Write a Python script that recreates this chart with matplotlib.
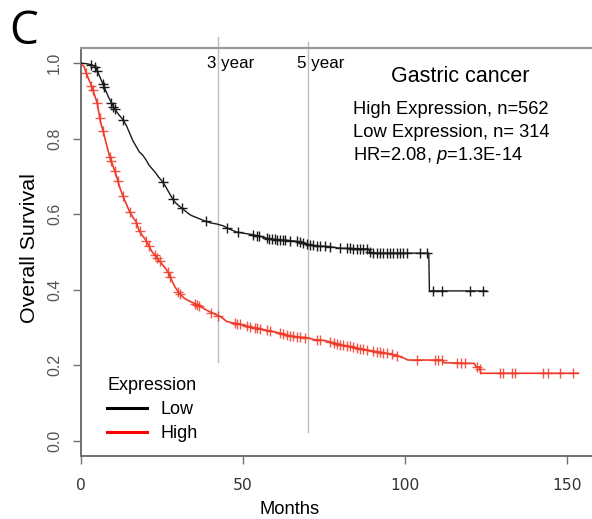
import numpy as np
import matplotlib
matplotlib.use('Agg')
import matplotlib.pyplot as plt
from matplotlib.lines import Line2D

# ---------------- data ----------------
low_t = [0, 2, 3.5, 4.5, 5.5, 6.5, 7.5, 8.5, 9.5, 10.5, 12, 13, 14, 15, 16, 17, 18, 19, 20,
         21, 22, 23, 24, 25, 26, 27, 28, 29, 30, 31, 32, 33, 34, 36, 38, 40, 42, 44, 46, 48,
         50, 53, 56, 58, 62, 66, 69, 70, 73, 77, 80, 88.8, 89.3, 90, 107.4, 107.6, 125.3]
low_s = [1.0, 0.998, 0.995, 0.99, 0.97, 0.95, 0.93, 0.91, 0.893, 0.877, 0.86, 0.85, 0.835,
         0.815, 0.795, 0.78, 0.765, 0.757, 0.745, 0.73, 0.72, 0.71, 0.698, 0.688, 0.675, 0.66,
         0.645, 0.632, 0.624, 0.617, 0.61, 0.603, 0.597, 0.59, 0.583, 0.577, 0.574, 0.569,
         0.56, 0.553, 0.55, 0.546, 0.54, 0.534, 0.532, 0.529, 0.524, 0.519, 0.516, 0.514,
         0.51, 0.508, 0.499, 0.497, 0.497, 0.397, 0.397]
low_cens = [3.0, 4.3, 5.0, 6.8, 7.1, 9.4, 10.0, 10.4, 13.1, 25.3, 28.4, 31.1, 38.5, 45.0,
            48.6, 53.2, 54.3, 55.1, 57.3, 58.2, 59.0, 59.8, 60.6, 61.5, 62.3, 63.1, 64.5,
            66.6, 67.6, 68.7, 69.7, 70.7, 71.7, 72.8, 73.8, 75.4, 76.9, 80.0, 82.1, 83.1,
            84.1, 85.1, 86.2, 87.2, 88.2, 89.3, 90.3, 91.3, 92.3, 93.4, 94.4, 95.4, 96.4,
            97.5, 98.5, 99.5, 100.6, 104.7, 106.8, 108.6, 111.6, 120.1, 124.1]

high_t = [0, 1, 2, 3, 4, 5, 6, 7, 8, 9, 10, 11, 12, 13, 14, 15, 16, 17, 18, 19, 20, 21, 22,
          23, 24, 25, 26, 27, 28, 29, 30, 31, 32, 33, 34, 35, 37, 39, 41, 43, 44, 45, 47, 50,
          52, 55, 57, 60, 62, 64, 67, 70, 72, 75, 78, 80, 83, 85, 88, 90, 93, 96, 98, 100,
          101, 111.5, 112, 121.5, 122, 123, 123.5, 153.6]
high_s = [1.0, 0.99, 0.965, 0.945, 0.92, 0.895, 0.845, 0.815, 0.78, 0.748, 0.725, 0.70,
          0.67, 0.647, 0.627, 0.607, 0.592, 0.58, 0.556, 0.543, 0.532, 0.515, 0.50, 0.49,
          0.478, 0.468, 0.458, 0.445, 0.425, 0.408, 0.395, 0.385, 0.377, 0.372, 0.368, 0.364,
          0.355, 0.345, 0.337, 0.329, 0.323, 0.316, 0.312, 0.307, 0.302, 0.297, 0.293, 0.288,
          0.284, 0.278, 0.275, 0.273, 0.268, 0.266, 0.26, 0.254, 0.25, 0.245, 0.241, 0.238,
          0.234, 0.229, 0.225, 0.218, 0.214, 0.214, 0.207, 0.205, 0.196, 0.196, 0.179, 0.179]
high_cens = [1.6, 3.2, 3.6, 5.0, 5.8, 6.8, 8.9, 9.3, 10.4, 11.4, 13.0, 15.0, 17.1, 18.1,
             20.2, 21.0, 22.8, 23.5, 24.3, 26.9, 27.5, 30.0, 30.5, 35.1, 35.7, 36.5, 40.3,
             42.3, 47.6, 48.3, 49.1, 51.2, 52.2, 53.7, 54.5, 55.3, 57.3, 58.4, 61.5, 62.5,
             63.5, 64.5, 65.5, 66.6, 67.6, 69.2, 72.8, 73.8, 76.9, 78.0, 79.0, 80.0, 81.0,
             82.0, 83.0, 84.1, 85.1, 86.2, 87.2, 88.2, 90.3, 91.3, 92.3, 93.4, 94.4, 96.0,
             97.5, 103.7, 109.3, 110.3, 111.4, 116.0, 117.3, 118.6, 122.2, 123.2, 129.4,
             130.4, 133.0, 134.0, 142.8, 144.3, 147.9, 152.0]

x_ticks = [0, 50, 100, 150]
y_ticks = [0.0, 0.2, 0.4, 0.6, 0.8, 1.0]
year_pos = [42.4, 70.2]
year_lines_bottom = [0.21, 0.024]
year_lines_top = [1.07, 1.055]
year_labels = ['3 year', '5 year']

title_text = 'Gastric cancer'
info_lines = ['High Expression, n=562', 'Low Expression, n= 314', r'HR=2.08, $\mathit{p}$=1.3E-14']

# ---------------- style ----------------
plt.rcParams['font.family'] = ['Liberation Sans', 'DejaVu Sans']
plt.rcParams['mathtext.fontset'] = 'custom'
plt.rcParams['mathtext.rm'] = 'Liberation Sans'
plt.rcParams['mathtext.it'] = 'Liberation Sans:italic'

RED = '#ee3a28'
BLACK = '#1a1a1a'

W, H = 592, 519
fig = plt.figure(figsize=(W / 100, H / 100), dpi=100)
ax = fig.add_axes([81 / W, (H - 456) / H, (W - 81) / W, (456 - 48) / H])
ax.set_xlim(0, (W - 81) / 3.238)
ax.set_ylim(-0.04, 1.04)

# year reference lines
for xp, yb, yt, lab in zip(year_pos, year_lines_bottom, year_lines_top, year_labels):
    ax.plot([xp, xp], [yb, yt], color='#bdbdbd', lw=1.0, clip_on=False, zorder=1)
    ax.text(xp - 3.55, 1.0, lab, fontsize=12.2, ha='left', va='center', color='black')

# curves
ax.plot(high_t, high_s, color=RED, lw=1.2, zorder=3)
ax.plot(high_cens, np.interp(high_cens, high_t, high_s), linestyle='none', marker='+',
        markersize=7.5, mew=1.0, color=RED, alpha=0.85, zorder=3)
ax.plot(low_t, low_s, color=BLACK, lw=1.0, zorder=4)
ax.plot(low_cens, np.interp(low_cens, low_t, low_s), linestyle='none', marker='+',
        markersize=7.5, mew=1.0, color=BLACK, zorder=4)

# spines and ticks
for sp in ['left', 'bottom']:
    ax.spines[sp].set_color('#707070')
    ax.spines[sp].set_linewidth(1.4)
ax.spines['top'].set_color('#9a9a9a')
ax.spines['top'].set_linewidth(1.6)
ax.spines['right'].set_visible(False)

ax.set_xticks(x_ticks)
ax.set_xticklabels([str(v) for v in x_ticks], family='DejaVu Sans', fontsize=11.2,
                   color='#333333')
ax.set_yticks(y_ticks)
ax.set_yticklabels(['%.1f' % v for v in y_ticks], fontsize=11.5, color='#555555',
                   rotation=90, va='center')
ax.tick_params(axis='x', direction='out', length=5.5, width=1.0, color='#707070', pad=10)
ax.tick_params(axis='y', direction='out', length=5.5, width=1.0, color='#707070', pad=8)

ax.set_xlabel('Months', fontsize=13.2)
ax.xaxis.set_label_coords((290 - 81) / (W - 81), (456 - 510) / (456 - 48), transform=ax.transAxes)
ax.xaxis.label.set_va('center')
ax.set_ylabel('Overall Survival', fontsize=15.4)
ax.yaxis.set_label_coords((29.5 - 81) / (W - 81), (456 - 248) / (456 - 48), transform=ax.transAxes)
ax.yaxis.label.set_va('center')

# annotations
fig.text(460 / W, 1 - 76 / H, title_text, fontsize=15.5, ha='center', va='center')
for i, line in enumerate(info_lines):
    fig.text(352.7 / W, 1 - (110 + 22.5 * i) / H, line, fontsize=13.2, ha='left',
             va='center')

fig.text(24 / W, 1 - 32 / H, 'C', family=['Open Sans', 'DejaVu Sans'], fontsize=33,
         ha='center', va='center')

handles = [Line2D([], [], color='black', lw=2.2), Line2D([], [], color='red', lw=2.2)]
leg = ax.legend(handles, ['Low', 'High'], title='Expression', loc='upper left',
                bbox_to_anchor=(107 / W, 1 - 377 / H), bbox_transform=fig.transFigure,
                frameon=False, fontsize=13, title_fontsize=13, handlelength=2.2,
                handletextpad=0.75, labelspacing=0.4, borderpad=0, borderaxespad=0,
                alignment='left')

fig.savefig('out.png', dpi=100)
